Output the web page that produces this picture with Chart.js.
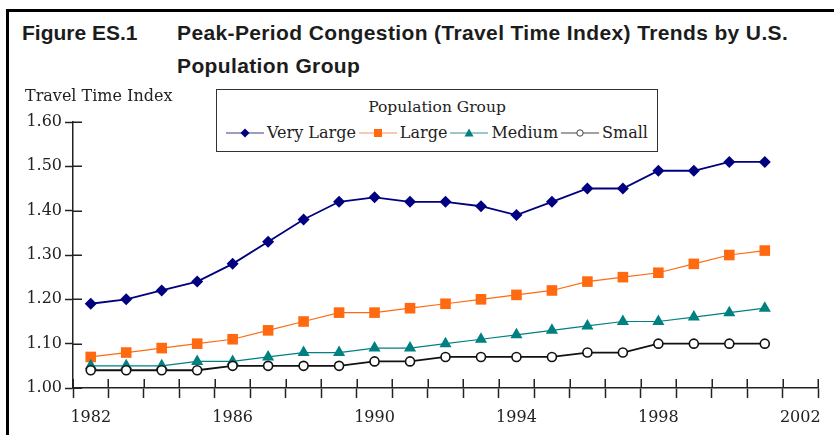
<!DOCTYPE html>
<html>
<head>
<meta charset="utf-8">
<script src="https://cdn.jsdelivr.net/npm/chart.js@4.4.1/dist/chart.umd.min.js"></script>
<style>
  html, body { margin: 0; padding: 0; background: #fff; }
  #wrap { position: relative; width: 834px; height: 435px; overflow: hidden; background: #fff; }
  #frame { position: absolute; left: 6px; top: 9px; width: 860px; height: 460px; border-top: 3px solid #000; border-left: 3px solid #000; }
  #chart { position: absolute; left: 0; top: 0; }
  .ttl { position: absolute; font-family: "Liberation Sans", Arial, sans-serif; font-weight: bold; font-size: 21px; line-height: 21px; color: #1c1c1c; white-space: nowrap; }
  .wide { letter-spacing: 0.37px; }
  #ytitle { position: absolute; left: 25px; top: 88px; font-family: "DejaVu Serif", serif; font-size: 16px; line-height: 16px; color: #222; white-space: nowrap; }
  #legend { position: absolute; left: 216px; top: 89px; width: 440px; height: 61px; border: 1.5px solid #333; background: #fff; font-family: "DejaVu Serif", serif; font-size: 16px; color: #222; }
  #ltitle { position: absolute; left: 0; right: 0; top: 9px; text-align: center; line-height: 16px; font-size: 15.5px; }
  #lrow { position: absolute; left: 0; right: 0; top: 35px; display: flex; justify-content: center; align-items: center; line-height: 16px; white-space: nowrap; }
  .li { display: inline-flex; align-items: center; }
  .li svg { display: block; margin-right: 3px; }
</style>
</head>
<body>
<div id="wrap">
  <div id="frame"></div>
  <div class="ttl" style="left:22px; top:22px;">Figure ES.1</div>
  <div class="ttl wide" style="left:177px; top:22px;">Peak-Period Congestion (Travel Time Index) Trends by U.S.</div>
  <div class="ttl wide" style="left:177px; top:55px;">Population Group</div>
  <canvas id="chart" width="834" height="435"></canvas>
  <div id="ytitle">Travel Time Index</div>
  <div id="legend">
    <div id="ltitle">Population Group</div>
    <div id="lrow"></div>
  </div>
</div>
<script>
// ---- data ----
const years      = [1982, 1983, 1984, 1985, 1986, 1987, 1988, 1989, 1990, 1991,
                    1992, 1993, 1994, 1995, 1996, 1997, 1998, 1999, 2000, 2001];
const veryLarge  = [1.19, 1.20, 1.22, 1.24, 1.28, 1.33, 1.38, 1.42, 1.43, 1.42,
                    1.42, 1.41, 1.39, 1.42, 1.45, 1.45, 1.49, 1.49, 1.51, 1.51];
const large      = [1.07, 1.08, 1.09, 1.10, 1.11, 1.13, 1.15, 1.17, 1.17, 1.18,
                    1.19, 1.20, 1.21, 1.22, 1.24, 1.25, 1.26, 1.28, 1.30, 1.31];
const medium     = [1.05, 1.05, 1.05, 1.06, 1.06, 1.07, 1.08, 1.08, 1.09, 1.09,
                    1.10, 1.11, 1.12, 1.13, 1.14, 1.15, 1.15, 1.16, 1.17, 1.18];
const small      = [1.04, 1.04, 1.04, 1.04, 1.05, 1.05, 1.05, 1.05, 1.06, 1.06,
                    1.07, 1.07, 1.07, 1.07, 1.08, 1.08, 1.10, 1.10, 1.10, 1.10];
const seriesNames = ['Very Large', 'Large', 'Medium', 'Small'];
const xTickLabels = ['1982', '1986', '1990', '1994', '1998', '2002'];
const yTickLabels = ['1.00', '1.10', '1.20', '1.30', '1.40', '1.50', '1.60'];

const xMin = 1981.5, xMax = 2002.5;
const toPts = arr => years.map((yr, i) => ({ x: yr, y: arr[i] }));

const styles = [
  { color: '#000080', legendLine: '#3a3a8c', pointStyle: 'rectRot', radius: 6, bw: 1.8, fill: '#000080', pbw: 0 },
  { color: '#ff6a10', legendLine: '#f59060', pointStyle: 'rect', radius: 7.5, bw: 1.2, fill: '#ff6a10', pbw: 0 },
  { color: '#008080', legendLine: '#3a9090', pointStyle: 'triangle', radius: 7, bw: 1.2, fill: '#008080', pbw: 0 },
  { color: '#111111', legendLine: '#444444', pointStyle: 'circle', radius: 4.5, bw: 1.8, fill: '#ffffff', pbw: 1.6 }
];
const values = [veryLarge, large, medium, small];

const datasets = values.map((arr, i) => ({
  label: seriesNames[i],
  data: toPts(arr),
  borderColor: styles[i].color,
  backgroundColor: styles[i].fill,
  borderWidth: styles[i].bw,
  pointStyle: styles[i].pointStyle,
  pointRadius: styles[i].radius,
  pointBackgroundColor: styles[i].fill,
  pointBorderColor: styles[i].color,
  pointBorderWidth: styles[i].pbw,
  tension: 0,
  fill: false,
  order: 4 - i
}));

const halfTicks = [];
for (let v = xMin; v <= xMax + 1e-9; v += 0.5) halfTicks.push({ value: v });

const innerTicks = {
  id: 'innerTicks',
  beforeDatasetsDraw(ch) {
    const { ctx, chartArea: a, scales: { x, y } } = ch;
    ctx.save();
    ctx.strokeStyle = '#222';
    ctx.lineWidth = 1.5;
    ctx.beginPath();
    y.ticks.forEach(t => {
      const p = Math.round(y.getPixelForValue(t.value)) + 0.25;
      ctx.moveTo(a.left, p); ctx.lineTo(a.left + 9, p);
    });
    x.ticks.forEach(t => {
      if (!Number.isInteger(t.value)) {
        const p = Math.round(x.getPixelForValue(t.value)) + 0.25;
        ctx.moveTo(p, a.bottom); ctx.lineTo(p, a.bottom - 9);
      }
    });
    ctx.stroke();
    ctx.restore();
  }
};

const serif = { family: '"DejaVu Serif", serif', size: 16 };

const chart = new Chart(document.getElementById('chart'), {
  type: 'line',
  data: { datasets },
  options: {
    responsive: false,
    animation: false,
    layout: { padding: { top: 122, right: 16, left: 0, bottom: 0 } },
    plugins: { legend: { display: false }, tooltip: { enabled: false }, title: { display: false } },
    scales: {
      x: {
        type: 'linear', min: xMin, max: xMax,
        afterBuildTicks: s => { s.ticks = halfTicks.map(t => ({ value: t.value })); },
        afterFit: s => { s.height = 47; },
        grid: {
          drawOnChartArea: false, drawTicks: true, tickLength: 10, tickWidth: 1.5,
          tickColor: c => (c.tick && Number.isInteger(c.tick.value)) ? 'rgba(0,0,0,0)' : '#222'
        },
        border: { color: '#222', width: 1.5 },
        ticks: {
          autoSkip: false, maxRotation: 0, minRotation: 0, padding: 10,
          font: serif, color: '#222',
          callback: v => xTickLabels.includes(String(v)) ? String(v) : ''
        }
      },
      y: {
        min: 1.0, max: 1.6,
        afterBuildTicks: s => { s.ticks = yTickLabels.map(l => ({ value: parseFloat(l) })); },
        afterFit: s => { s.width = 73; },
        grid: { drawOnChartArea: false, drawTicks: true, tickLength: 8, tickWidth: 1.5, tickColor: '#222' },
        border: { color: '#222', width: 1.5 },
        ticks: {
          padding: 3, font: serif, color: '#222',
          callback: v => yTickLabels.find(l => Math.abs(parseFloat(l) - v) < 1e-6) || ''
        }
      }
    }
  },
  plugins: [innerTicks]
});

// ---- legend built from the chart's datasets ----
function symbolSVG(st) {
  const w = 38, h = 12, cx = w / 2, cy = h / 2;
  let m = '';
  if (st.pointStyle === 'rectRot') m = `<polygon points="${cx},${cy-4.5} ${cx+4.5},${cy} ${cx},${cy+4.5} ${cx-4.5},${cy}" fill="${st.fill}"/>`;
  else if (st.pointStyle === 'rect') m = `<rect x="${cx-4}" y="${cy-4}" width="8" height="8" fill="${st.fill}"/>`;
  else if (st.pointStyle === 'triangle') m = `<polygon points="${cx},${cy-4.5} ${cx+4.5},${cy+3.5} ${cx-4.5},${cy+3.5}" fill="${st.fill}"/>`;
  else m = `<circle cx="${cx}" cy="${cy}" r="3.2" fill="#fff" stroke="${st.legendLine}" stroke-width="1"/>`;
  return `<svg width="${w}" height="${h}" viewBox="0 0 ${w} ${h}"><line x1="0" y1="${cy}" x2="${w}" y2="${cy}" stroke="${st.legendLine}" stroke-width="1.2"/>${m}</svg>`;
}
const row = document.getElementById('lrow');
chart.data.datasets.forEach((ds, i) => {
  const span = document.createElement('span');
  span.className = 'li';
  span.style.marginRight = i < 3 ? '3px' : '0';
  span.innerHTML = symbolSVG(styles[i]) + `<span>${ds.label}</span>`;
  row.appendChild(span);
});
</script>
</body>
</html>
